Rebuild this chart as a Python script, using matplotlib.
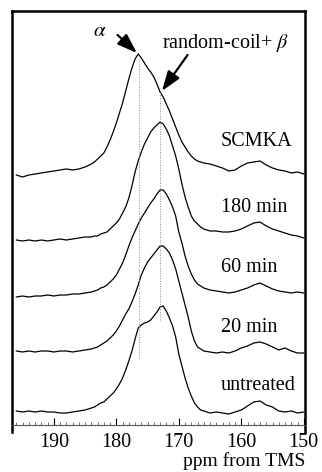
import numpy as np
import matplotlib.pyplot as plt
from matplotlib.ticker import MultipleLocator

plt.rcParams['font.family'] = ['Liberation Serif', 'DejaVu Serif']
plt.rcParams['mathtext.fontset'] = 'stix'

# chemical shift axis: coarse on the baselines, finer through the carbonyl peak
ppm = np.concatenate([np.arange(196, 184.5, -1.0),
                      np.arange(184, 165.75, -0.5),
                      np.arange(165, 149.5, -1.0)])

# 13C CP/MAS carbonyl region, intensities above each trace's own baseline
scmka = [0, -2, 0, 1, 2, 3, 4, 5, 6, 5, 6, 8,
         11, 13, 16, 19, 22, 28, 35, 43, 52, 62,
         72, 84, 96, 107, 116, 121, 117, 112, 107, 103,
         98, 91, 83, 78, 71, 64, 56, 48, 40, 33,
         28, 23, 19, 16, 14, 13, 12,
         11, 9, 7, 4, 5, 9, 12, 13, 14, 10, 7, 5, 4, 2, 3, 1]
min180 = [0, -1, 0, -1, 0, -1, 0, 1, 0, 1, 2, 3,
          3, 4, 4, 6, 7, 8, 11, 14, 17, 21,
          27, 33, 42, 54, 68, 79, 88, 96, 102, 108,
          112, 115, 118, 116, 111, 104, 94, 84, 71, 56,
          43, 33, 24, 19, 16, 13, 11,
          9, 9, 8, 8, 9, 11, 14, 17, 18, 14, 11, 9, 7, 5, 4, 2]
min60 = [-1, 0, -1, 0, 0, 1, 0, 1, 1, 2, 2, 3,
         4, 5, 6, 8, 9, 11, 14, 17, 21, 27,
         33, 41, 50, 58, 65, 72, 78, 83, 88, 93,
         97, 102, 106, 106, 102, 96, 89, 80, 64, 53,
         40, 30, 22, 16, 12, 10, 8,
         6, 5, 4, 3, 4, 6, 8, 11, 13, 10, 7, 5, 4, 3, 4, 3]
min20 = [0, -1, 0, -1, 0, 0, -1, 0, 0, -1, 0, 1,
         2, 3, 4, 6, 8, 10, 13, 16, 20, 25,
         31, 37, 42, 49, 57, 66, 76, 83, 89, 93,
         97, 101, 105, 105, 102, 98, 91, 82, 70, 58,
         46, 34, 20, 10, 4, 2, 0,
         -1, -2, -1, -2, 0, 3, 5, 8, 9, 7, 4, 1, 3, 0, -2, -2]
untreated = [1, 0, 1, 0, 1, 0, 0, -1, -1, 0, 1, 2,
             4, 5, 7, 9, 10, 13, 16, 19, 23, 28,
             34, 42, 51, 61, 73, 84, 87, 89, 90, 92,
             96, 100, 105, 106, 101, 94, 86, 75, 58, 46,
             34, 24, 16, 9, 5, 2, 1,
             -1, 0, -1, -2, 0, 2, 6, 10, 11, 7, 5, 1, 0, 1, -1, 0]

traces = [scmka, min180, min60, min20, untreated]
names = ['SCMKA', '180 min', '60 min', '20 min', 'untreated']
offsets = [250, 185, 129, 74, 13]
label_y = [284, 217, 157, 98, 39]

fig = plt.figure(figsize=(3.22, 4.72), dpi=100)
ax = fig.add_axes([12 / 322, 47 / 472, 293 / 322, 414 / 472])

for y, off in zip(traces, offsets):
    ax.plot(ppm, np.array(y) + off, color='k', lw=0.9)

for name, ly in zip(names, label_y):
    ax.text(163.3, ly, name, fontsize=14.5, ha='left', va='center')

# peak positions of alpha-helix and random-coil/beta components
ax.vlines(176.3, 67, 369, colors='#8a8a8a', linestyles=':', lw=0.7)
ax.vlines(173.0, 105, 333, colors='#8a8a8a', linestyles=':', lw=0.7)

arrow = dict(arrowstyle='-|>,head_length=1.2,head_width=0.42', lw=1.6,
             color='k', shrinkA=0, shrinkB=0)
ax.annotate('', xy=(176.7, 372), xytext=(179.8, 390), arrowprops=arrow)
ax.text(182.6, 393, r'$\alpha$', fontsize=15, ha='center', va='center')
ax.annotate('', xy=(172.7, 334), xytext=(168.6, 370), arrowprops=arrow)
ax.text(162.5, 382, r'random-coil+ $\beta$', fontsize=14.5,
        ha='center', va='center')

ax.set_xlim(196.7, 149.8)
ax.set_ylim(0, 414)
ax.set_yticks([])
ax.xaxis.set_major_locator(MultipleLocator(10))
ax.xaxis.set_minor_locator(MultipleLocator(1))
ax.tick_params(axis='x', which='major', direction='in', length=5,
               width=0.8, labelsize=14.5, pad=5.5)
ax.tick_params(axis='x', which='minor', direction='in', length=2.5,
               width=0.6, color='#555555')

for side in ['left', 'right', 'top']:
    ax.spines[side].set_linewidth(1.8)
ax.spines['left'].set_bounds(-7, 414)
ax.spines['right'].set_bounds(-7, 414)
ax.spines['bottom'].set_linewidth(0.8)
ax.spines['bottom'].set_color('#555555')

# axis title sits tight under the tick labels, flush with the right spine
ax.text(1.0, -0.099, 'ppm from TMS', transform=ax.transAxes,
        fontsize=14, ha='right', va='baseline')

fig.savefig('out.png', dpi=100)
